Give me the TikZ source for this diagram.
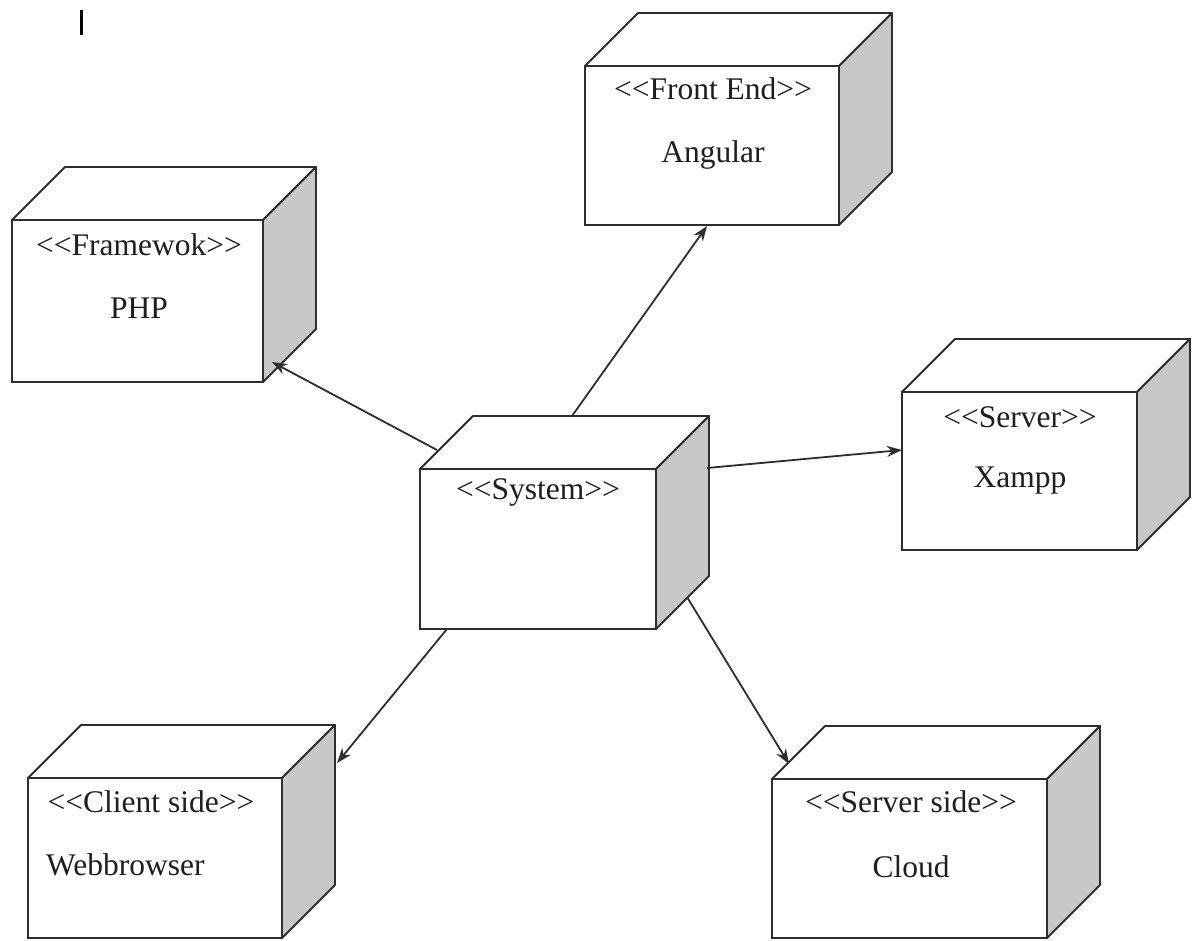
\documentclass[tikz,border=0pt]{standalone}
\usepackage{fontspec}
\setmainfont{Liberation Serif}
\usetikzlibrary{arrows.meta,calc}
\definecolor{linec}{HTML}{2E2E2E}
\definecolor{sidegray}{HTML}{C8C8C8}
\definecolor{txtc}{HTML}{1E1E1E}
\newcommand\depbox[5]{%
  \node[front, minimum width={(#4-#2)*1pt}, minimum height={(#5-#3)*1pt}] (#1) at ({(#2+#4)/2},{(#3+#5)/2}) {};
  \coordinate (#1-tl) at ($(#1.north west)+(53,-53)$);
  \coordinate (#1-tr) at ($(#1.north east)+(53,-53)$);
  \coordinate (#1-br) at ($(#1.south east)+(53,-53)$);
  \draw[topf] (#1.north west) -- (#1-tl) -- (#1-tr) -- (#1.north east) -- cycle;
  \draw[sidef] (#1.north east) -- (#1-tr) -- (#1-br) -- (#1.south east) -- cycle;
}
\newcommand\stOpen{<{}<}
\newcommand\stClose{>{}>}
\begin{document}
\begin{tikzpicture}[x=1pt,y=-1pt,
  front/.style={draw=linec, line width=1.8pt, fill=white, inner sep=0pt, outer sep=0pt, rectangle},
  topf/.style={draw=linec, line width=1.8pt, fill=white, line join=round},
  sidef/.style={draw=linec, line width=1.8pt, fill=sidegray, line join=round},
  lbl/.style={font=\fontsize{31.5}{36}\selectfont, text=txtc, inner sep=0pt},
  conn/.style={draw=linec, line width=1.8pt, -{Stealth[length=15pt,width=11pt]}},
  cursor/.style={draw=black, line width=3pt}
]
\useasboundingbox[fill=white] (0,0) rectangle (1192,941);

% cursor mark
\coordinate (c1) at (81,10);
\coordinate (c2) at (81,35);
\draw[cursor] (c1) -- (c2);

% boxes
\depbox{php}{12}{220}{263}{382}
\depbox{ang}{585}{66}{839}{225}
\depbox{xam}{902}{392}{1137}{550}
\depbox{sys}{420}{469}{656}{629}
\depbox{web}{28}{778}{282}{938}
\depbox{cld}{772}{779}{1047}{938}

% labels
\node[lbl] (php-st) at (139,245) {\stOpen Framewok\stClose};
\node[lbl] (php-nm) at (139,308) {PHP};
\node[lbl] (ang-st) at (713,89) {\stOpen Front End\stClose};
\node[lbl] (ang-nm) at (713,155) {Angular};
\node[lbl] (xam-st) at (1020,417) {\stOpen Server\stClose};
\node[lbl] (xam-nm) at (1020,481) {Xampp};
\node[lbl] (sys-st) at (538,492) {\stOpen System\stClose};
\node[lbl] (web-st) at (151,802) {\stOpen Client side\stClose};
\node[lbl, anchor=west] (web-nm) at (46,865) {Webbrowser};
\node[lbl] (cld-st) at (911,802) {\stOpen Server side\stClose};
\node[lbl] (cld-nm) at (911,867) {Cloud};

% connector end points on box faces
\coordinate (s1) at (437,450);
\coordinate (e1) at (272,362);
\coordinate (s2) at (572,416);
\coordinate (e2) at (707,226);
\coordinate (s3) at (707,468);
\coordinate (e3) at (902,450);
\coordinate (s4) at (447,629);
\coordinate (e4) at (337,763);
\coordinate (s5) at (687,597);
\coordinate (e5) at (789,764);

\draw[conn] (s1) -- (e1);
\draw[conn] (s2) -- (e2);
\draw[conn] (s3) -- (e3);
\draw[conn] (s4) -- (e4);
\draw[conn] (s5) -- (e5);
\end{tikzpicture}
\end{document}
